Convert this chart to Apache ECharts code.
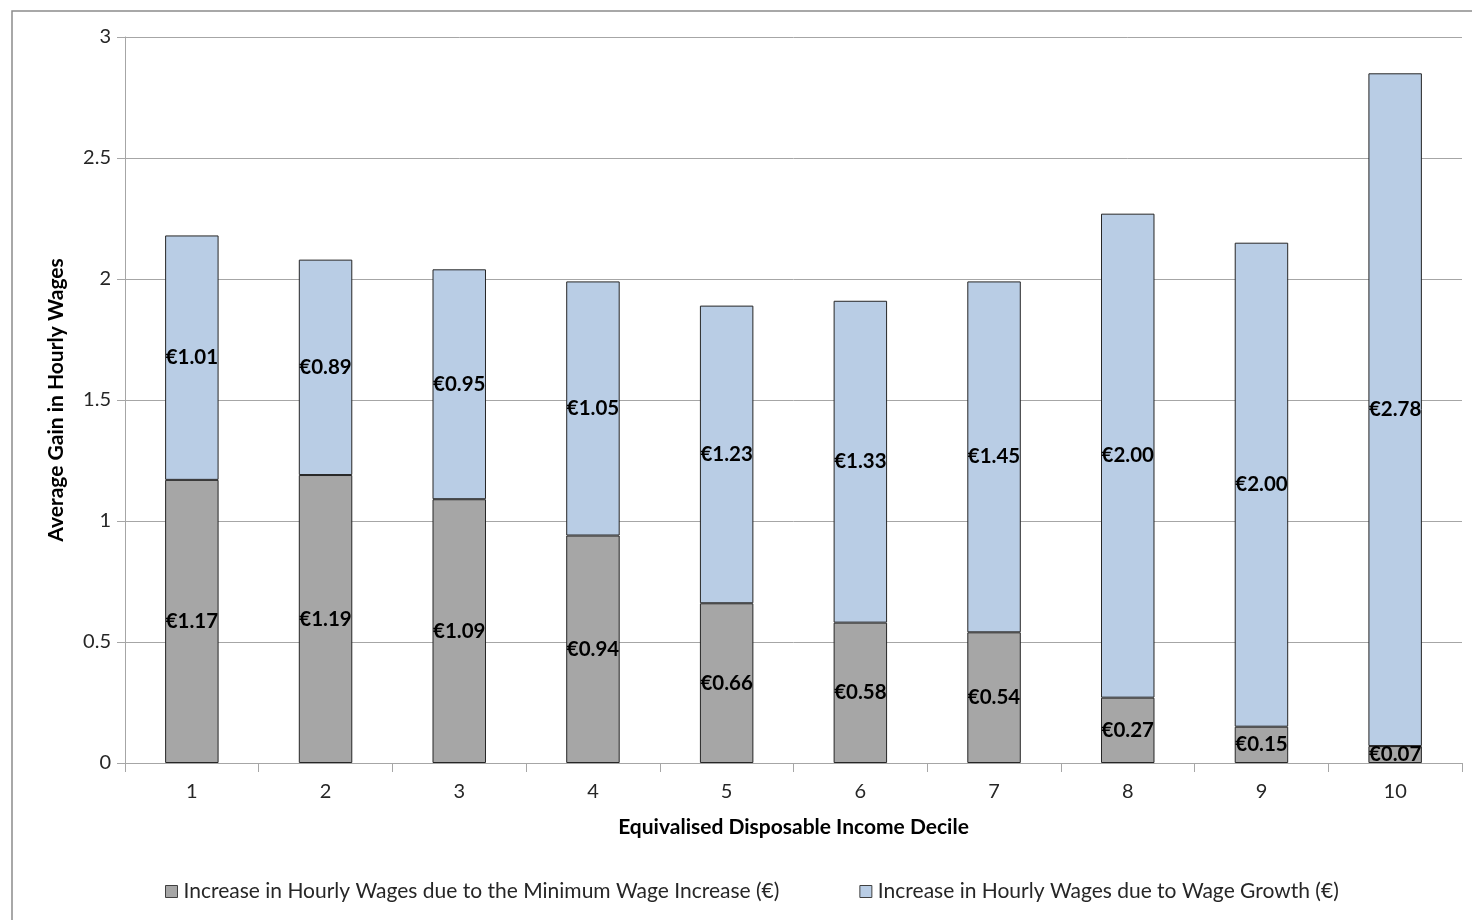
<!DOCTYPE html>
<html>
<head>
<meta charset="utf-8">
<script src="https://cdn.jsdelivr.net/npm/echarts@6/dist/echarts.min.js"></script>
<style>
  html, body { margin: 0; padding: 0; background: #ffffff; }
  #chart { width: 1472px; height: 920px; }
</style>
</head>
<body>
<div id="chart"></div>
<script>
// Income deciles on the x axis
const deciles = ['1', '2', '3', '4', '5', '6', '7', '8', '9', '10'];
// Gain from the minimum wage increase (€ per hour)
const minimumWageGain = [1.17, 1.19, 1.09, 0.94, 0.66, 0.58, 0.54, 0.27, 0.15, 0.07];
// Gain from general wage growth (€ per hour)
const wageGrowthGain = [1.01, 0.89, 0.95, 1.05, 1.23, 1.33, 1.45, 2.00, 2.00, 2.78];

const seriesNames = [
  'Increase in Hourly Wages due to the Minimum Wage Increase (€)',
  'Increase in Hourly Wages due to Wage Growth (€)'
];

const FONT = 'Lato, "Open Sans", sans-serif';
const AXIS_GREY = '#a6a6a6';

const chart = echarts.init(document.getElementById('chart'), null, { renderer: 'canvas' });

const barLabel = {
  show: true,
  position: 'inside',
  color: '#000000',
  fontFamily: FONT,
  fontWeight: 'bold',
  fontSize: 20.5,
  formatter: p => '€' + p.value.toFixed(2)
};

chart.setOption({
  animation: false,
  backgroundColor: '#ffffff',
  graphic: [{
    type: 'rect',
    shape: { x: 12, y: 11, width: 1480, height: 940 },
    style: { fill: 'none', stroke: '#8c8c8c', lineWidth: 1.5 },
    silent: true,
    z: -10
  }],
  grid: { left: 125, right: 10, top: 37, bottom: 157, containLabel: false },
  legend: {
    top: 876,
    left: 160,
    itemWidth: 12,
    itemHeight: 12,
    itemGap: 80,
    icon: 'rect',
    textStyle: { fontFamily: FONT, fontSize: 21, color: '#262626', padding: [0, 0, 0, 1] },
    itemStyle: { borderColor: '#404040', borderWidth: 1 },
    data: seriesNames
  },
  xAxis: {
    type: 'category',
    data: deciles,
    name: 'Equivalised Disposable Income Decile',
    nameLocation: 'middle',
    nameGap: 54,
    nameTextStyle: { fontFamily: FONT, fontSize: 21, fontWeight: 'bold', color: '#000000' },
    axisLine: { show: true, lineStyle: { color: AXIS_GREY, width: 1 } },
    axisTick: { show: true, length: 9, interval: 0, lineStyle: { color: AXIS_GREY } },
    axisLabel: { fontFamily: FONT, fontSize: 20, color: '#262626', margin: 19 },
    splitLine: { show: false }
  },
  yAxis: {
    type: 'value',
    min: 0,
    max: 3,
    interval: 0.5,
    name: 'Average Gain in Hourly Wages',
    nameLocation: 'middle',
    nameGap: 58,
    nameTextStyle: { fontFamily: FONT, fontSize: 21, fontWeight: 'bold', color: '#000000' },
    axisLine: { show: true, lineStyle: { color: AXIS_GREY, width: 1 } },
    axisTick: { show: true, length: 8, lineStyle: { color: AXIS_GREY } },
    axisLabel: { fontFamily: FONT, fontSize: 20, color: '#262626', margin: 14 },
    splitLine: { show: true, lineStyle: { color: AXIS_GREY, width: 1 } }
  },
  series: [
    {
      name: seriesNames[0],
      type: 'bar',
      stack: 'gain',
      barWidth: '40%',
      data: minimumWageGain,
      itemStyle: { color: '#a6a6a6', borderColor: '#262626', borderWidth: 1 },
      label: barLabel
    },
    {
      name: seriesNames[1],
      type: 'bar',
      stack: 'gain',
      barWidth: '40%',
      data: wageGrowthGain,
      itemStyle: { color: '#b9cde5', borderColor: '#262626', borderWidth: 1 },
      label: barLabel
    }
  ]
});
</script>
</body>
</html>
